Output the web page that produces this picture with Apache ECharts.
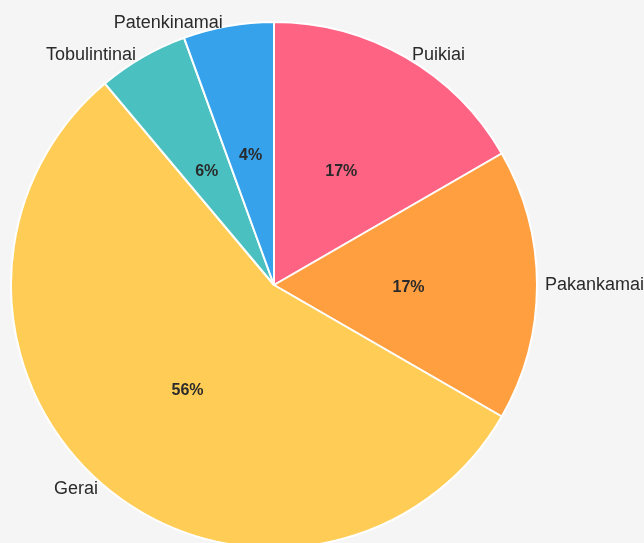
<!DOCTYPE html>
<html>
<head>
<meta charset="utf-8">
<script src="https://cdn.jsdelivr.net/npm/echarts@6/dist/echarts.min.js"></script>
<style>
  html, body { margin: 0; padding: 0; background: #f5f5f5; }
  #chart { width: 644px; height: 543px; }
</style>
</head>
<body>
<div id="chart"></div>
<script>
const categories = ['Puikiai', 'Pakankamai', 'Gerai', 'Tobulintinai', 'Patenkinamai']
const counts = [3, 3, 10, 1, 1]
const percentLabels = ['17%', '17%', '56%', '6%', '4%']
const colors = ['#ff6384', '#ff9f40', '#ffcd56', '#4bc0c0', '#36a2eb']

const chart = echarts.init(document.getElementById('chart'))

const pieData = categories.map((name, i) => ({
  name,
  value: counts[i],
  itemStyle: { color: colors[i] }
}))

const option = {
  backgroundColor: '#f5f5f5',
  animation: false,
  series: [
    {
      // slices with the percentage inside
      type: 'pie',
      center: [274, 285],
      radius: [0, 263],
      startAngle: 90,
      avoidLabelOverlap: false,
      itemStyle: { borderColor: '#ffffff', borderWidth: 2 },
      label: {
        show: true,
        position: 'inside',
        offset: [0, 3],
        formatter: p => percentLabels[p.dataIndex],
        color: '#2a2a2a',
        fontFamily: 'Liberation Sans, Arial, sans-serif',
        fontSize: 16,
        fontWeight: 'bold'
      },
      labelLine: { show: false },
      data: pieData
    },
    {
      // same slices, invisible, only carry the names outside
      type: 'pie',
      center: [274, 285],
      radius: [0, 263],
      startAngle: 90,
      silent: true,
      avoidLabelOverlap: false,
      itemStyle: { color: 'transparent', borderWidth: 0 },
      label: {
        show: true,
        position: 'outside',
        distanceToLabelLine: 5,
        color: '#2a2a2a',
        fontFamily: 'Liberation Sans, Arial, sans-serif',
        fontSize: 18
      },
      labelLine: { show: false, length: 3, length2: 0 },
      data: categories.map((name, i) => ({ name, value: counts[i] }))
    }
  ]
}

chart.setOption(option)
</script>
</body>
</html>
